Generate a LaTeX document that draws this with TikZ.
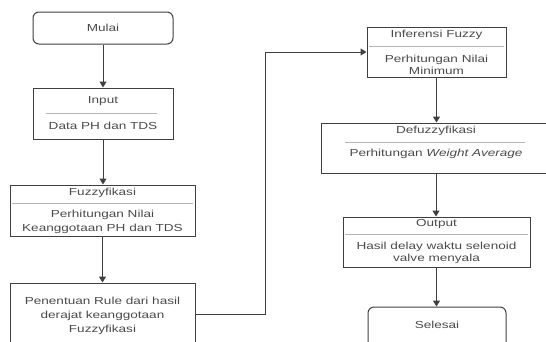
\documentclass[tikz,border=0pt]{standalone}
\usepackage{fontspec}
\setmainfont{Liberation Sans}[FakeStretch=1.33]
\usetikzlibrary{arrows.meta}
\definecolor{linegray}{HTML}{3F3F3F}
\definecolor{textgray}{HTML}{4A4A4A}
\definecolor{sepgray}{HTML}{B4B4B4}
\tikzset{
  box/.style={draw=linegray, line width=1pt, inner sep=0pt},
  endbox/.style={box, rounded corners=6pt},
  txt/.style={text=textgray, font=\fontsize{10.2}{13}\selectfont, align=center, inner sep=0pt},
  sepline/.style={draw=sepgray, line width=0.8pt},
  arr/.style={draw=linegray, line width=1pt, -{Triangle[width=7pt,length=6pt]}}
}
\begin{document}
\begin{tikzpicture}[x=1pt,y=-1pt]
	\useasboundingbox (0,0) rectangle (546,341);
	\clip (0,0) rectangle (546,341);
	% kolom kiri
	\node[endbox, minimum width=140pt, minimum height=32pt] (mulai) at (103,28) {};
	\node[txt] (mulaiT) at (103,28) {Mulai};
	\node[box, minimum width=140pt, minimum height=51pt] (input) at (103,113.5) {};
	\node[txt] (inputT) at (103,101) {Input};
	\node[txt] (inputB) at (103,126) {Data PH dan TDS};
	\draw[sepline] (46,113) -- (157,113);
	\node[box, minimum width=185pt, minimum height=51pt] (fuzzy) at (102.5,210.5) {};
	\node[txt] (fuzzyT) at (102.5,193) {Fuzzyfikasi};
	\node[txt, font=\fontsize{10.2}{14}\selectfont] (fuzzyB) at (102.5,222) {Perhitungan Nilai\\Keanggotaan PH dan TDS};
	\draw[sepline] (12,203) -- (193,203);
	\node[box, minimum width=185pt, minimum height=62pt] (rule) at (102.5,314) {};
	\node[txt, font=\fontsize{10.2}{14}\selectfont] (ruleB) at (102.5,316) {Penentuan Rule dari hasil\\derajat keanggotaan\\Fuzzyfikasi};
	% kolom kanan
	\node[box, minimum width=139pt, minimum height=50pt] (infer) at (436.5,52) {};
	\node[txt] (inferT) at (436.5,35) {Inferensi Fuzzy};
	\node[txt, font=\fontsize{10.2}{12}\selectfont] (inferB) at (436.5,65) {Perhitungan Nilai\\Minimum};
	\draw[sepline] (369,46) -- (504,46);
	\node[box, minimum width=230pt, minimum height=50pt] (defuz) at (436,148) {};
	\node[txt] (defuzT) at (436,131) {Defuzzyfikasi};
	\node[txt] (defuzB) at (436,154) {Perhitungan \textit{Weight Average}};
	\draw[sepline] (345,142) -- (525,142);
	\node[box, minimum width=187pt, minimum height=50pt] (output) at (436.5,242) {};
	\node[txt] (outputT) at (436.5,224) {Output};
	\node[txt, font=\fontsize{10.2}{12}\selectfont] (outputB) at (436.5,253) {Hasil delay waktu selenoid\\valve menyala};
	\draw[sepline] (345,234) -- (528,234);
	\node[endbox, minimum width=138pt, minimum height=46pt] (selesai) at (437,330) {};
	\node[txt] (selesaiT) at (437,325) {Selesai};
	% panah
	\draw[arr] (mulai.south) -- (input.north);
	\draw[arr] (input.south) -- (input.south |- fuzzy.north);
	\draw[arr] (fuzzy.south) -- (rule.north);
	\coordinate (belok) at (265,314);
	\draw[arr] (rule.east) -- (belok) |- (infer.west);
	\draw[arr] (infer.south) -- (infer.south |- defuz.north);
	\draw[arr] (defuz.south) -- (defuz.south |- output.north);
	\draw[arr] (output.south) -- (output.south |- selesai.north);
\end{tikzpicture}
\end{document}
